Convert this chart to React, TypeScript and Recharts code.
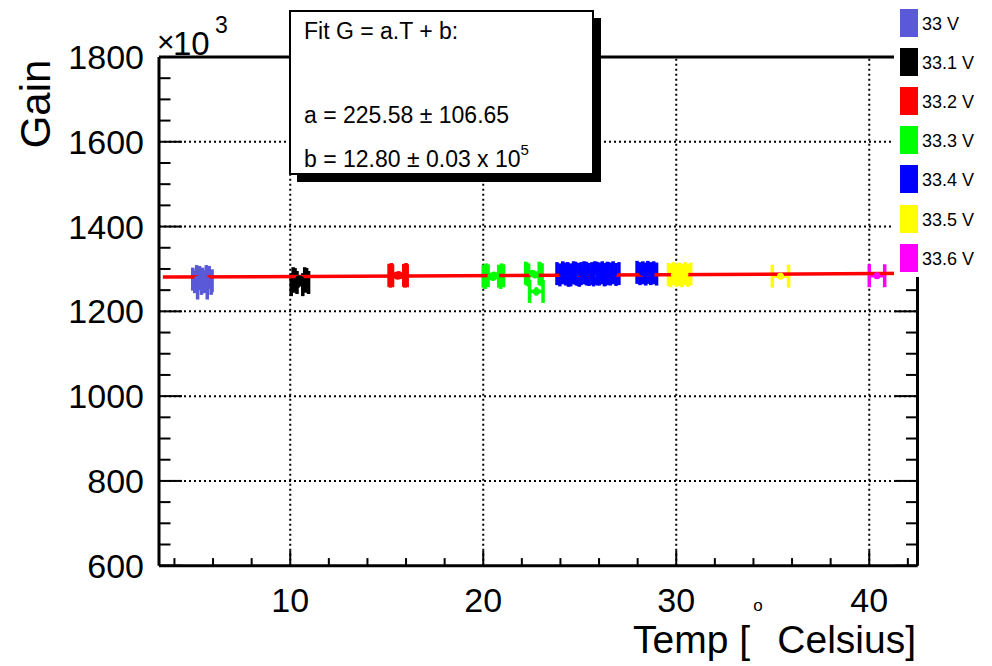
import React from 'react';
import { ComposedChart, Scatter, XAxis, YAxis, ErrorBar, ReferenceLine } from 'recharts';

const FONT = '"Liberation Sans", Arial, Helvetica, sans-serif';

// ---- axis ticks ----
const xTicks = [4, 6, 8, 10, 12, 14, 16, 18, 20, 22, 24, 26, 28, 30, 32, 34, 36, 38, 40, 42];
const xMajor = [10, 20, 30, 40];
const yTicks = [600, 650, 700, 750, 800, 850, 900, 950, 1000, 1050, 1100, 1150, 1200, 1250, 1300, 1350, 1400, 1450, 1500, 1550, 1600, 1650, 1700, 1750, 1800];
const yMajor = [600, 800, 1000, 1200, 1400, 1600, 1800];
const yGrid = [800, 1000, 1200, 1400, 1600];

// ---- series (Temp in °C, Gain in 10^3) ----
const seriesNames = ['33 V', '33.1 V', '33.2 V', '33.3 V', '33.4 V', '33.5 V', '33.6 V'];
const seriesColors = ['#5a5ad8', '#000000', '#ff0000', '#00ff00', '#0000ff', '#ffff00', '#ff00ff'];

const temp330 = [5.2, 5.3, 5.4, 5.45, 5.55, 5.65, 5.7];
const gain330 = [1276, 1270, 1282, 1255, 1280, 1266, 1272];
const terr330 = [0.25, 0.25, 0.25, 0.25, 0.25, 0.25, 0.25];
const gerr330 = [6, 6, 6, 6, 6, 6, 6];

const temp331 = [10.35, 10.45, 10.5, 10.55, 10.65];
const gain331 = [1263, 1277, 1271, 1275, 1268];
const terr331 = [0.3, 0.3, 0.3, 0.3, 0.3];
const gerr331 = [6, 6, 6, 6, 6];

const temp332 = [15.5, 15.56, 15.62, 15.68];
const gain332 = [1285, 1283, 1287, 1284];
const terr332 = [0.38, 0.38, 0.38, 0.38];
const gerr332 = [6, 6, 6, 6];

const temp333 = [20.4, 20.5, 20.55, 20.65, 22.55, 22.6, 22.7, 22.75];
const gain333 = [1283, 1280, 1286, 1284, 1290, 1288, 1286, 1247];
const terr333 = [0.4, 0.4, 0.4, 0.4, 0.35, 0.35, 0.35, 0.35];
const gerr333 = [6, 6, 6, 6, 6, 6, 6, 10];

const temp334 = [24.1, 24.25, 24.4, 24.55, 24.7, 25.05, 25.2, 25.35, 25.5, 25.65, 26.0, 26.15, 26.3, 26.45, 26.6, 26.75, 28.25, 28.4, 28.55, 28.7];
const gain334 = [1289, 1286, 1291, 1288, 1285, 1290, 1287, 1289, 1291, 1288, 1286, 1290, 1288, 1291, 1287, 1289, 1292, 1289, 1291, 1288];
const terr334 = [0.28, 0.28, 0.28, 0.28, 0.28, 0.28, 0.28, 0.28, 0.28, 0.28, 0.28, 0.28, 0.28, 0.28, 0.28, 0.28, 0.28, 0.28, 0.28, 0.28];
const gerr334 = [6, 6, 6, 6, 6, 6, 6, 6, 6, 6, 6, 6, 6, 6, 6, 6, 6, 6, 6, 6];

const temp335 = [29.9, 30.0, 30.15, 30.3, 30.45, 35.4];
const gain335 = [1287, 1284, 1289, 1285, 1288, 1283];
const terr335 = [0.3, 0.3, 0.3, 0.3, 0.3, 0.42];
const gerr335 = [6, 6, 6, 6, 6, 6];

const temp336 = [40.4];
const gain336 = [1284];
const terr336 = [0.4];
const gerr336 = [6];

// fit G = a.T + b, endpoints
const fitT = [3.4, 42.5];
const fitG = [1280.8, 1289.6];

const build = (t: number[], g: number[], te: number[], ge: number[]) =>
  t.map((T, i) => ({ T, G: g[i], xerr: te[i], yerr: ge[i] }));

const seriesData = [
  build(temp330, gain330, terr330, gerr330),
  build(temp331, gain331, terr331, gerr331),
  build(temp332, gain332, terr332, gerr332),
  build(temp333, gain333, terr333, gerr333),
  build(temp334, gain334, terr334, gerr334),
  build(temp335, gain335, terr335, gerr335),
  build(temp336, gain336, terr336, gerr336),
];

const XTickBottom = (p: any) => {
  const { x, y, payload } = p;
  const major = xMajor.includes(payload.value);
  return (
    <g>
      <line x1={x} x2={x} y1={y} y2={y - (major ? 15 : 7.6)} stroke="#000" strokeWidth={2} />
      {major && (
        <text x={x} y={y + 46} textAnchor="middle" fontSize={34} fontFamily={FONT} fill="#000">
          {payload.value}
        </text>
      )}
    </g>
  );
};

const YTickLeft = (p: any) => {
  const { x, y, payload } = p;
  const major = yMajor.includes(payload.value);
  return (
    <g>
      <line x1={x} x2={x + (major ? 23 : 11.5)} y1={y} y2={y} stroke="#000" strokeWidth={2} />
      {major && (
        <text x={x - 15} y={y + 12} textAnchor="end" fontSize={34} fontFamily={FONT} fill="#000">
          {payload.value}
        </text>
      )}
    </g>
  );
};

const YTickRight = (p: any) => {
  const { x, y, payload } = p;
  const major = yMajor.includes(payload.value);
  return <line x1={x} x2={x - (major ? 23 : 11.5)} y1={y} y2={y} stroke="#000" strokeWidth={2} />;
};

const legendY = [23, 62, 101, 140, 179, 219, 258];

export default function App() {
  return (
    <div style={{ position: 'absolute', left: 0, top: 0, width: 992, height: 666, background: '#fff' }}>
      <ComposedChart width={992} height={666} margin={{ top: 56, right: 73.5, bottom: 99.3, left: 158 }}>
        <XAxis
          type="number"
          dataKey="T"
          domain={[3.2, 42.5]}
          ticks={xTicks}
          interval={0}
          height={1}
          tickSize={0}
          tickMargin={0}
          allowDataOverflow
          axisLine={{ stroke: '#000', strokeWidth: 3 }}
          tickLine={false}
          tick={(p: any) => <XTickBottom {...p} />}
        />
        <XAxis
          xAxisId="top"
          orientation="top"
          type="number"
          domain={[3.2, 42.5]}
          ticks={xTicks}
          height={1}
          tickSize={0}
          allowDataOverflow
          axisLine={{ stroke: '#000', strokeWidth: 3 }}
          tickLine={false}
          tick={false}
        />
        <YAxis
          type="number"
          dataKey="G"
          domain={[600, 1800]}
          ticks={yTicks}
          interval={0}
          width={1}
          tickSize={0}
          tickMargin={0}
          allowDataOverflow
          axisLine={{ stroke: '#000', strokeWidth: 3 }}
          tickLine={false}
          tick={(p: any) => <YTickLeft {...p} />}
        />
        <YAxis
          yAxisId="right"
          orientation="right"
          type="number"
          domain={[600, 1800]}
          ticks={yTicks}
          interval={0}
          width={1}
          tickSize={0}
          tickMargin={0}
          allowDataOverflow
          axisLine={{ stroke: '#000', strokeWidth: 3 }}
          tickLine={false}
          tick={(p: any) => <YTickRight {...p} />}
        />
        {xMajor.map((v) => (
          <ReferenceLine key={'gx' + v} x={v} stroke="#000" strokeWidth={2} strokeDasharray="2 3" />
        ))}
        {yGrid.map((v) => (
          <ReferenceLine key={'gy' + v} y={v} stroke="#000" strokeWidth={2} strokeDasharray="2 3" />
        ))}
        {seriesData.map((d, i) => (
          <Scatter
            key={seriesNames[i]}
            name={seriesNames[i]}
            data={d}
            fill={seriesColors[i]}
            isAnimationActive={false}
            shape={(p: any) => <circle cx={p.cx} cy={p.cy} r={3.5} fill={seriesColors[i]} />}
          >
            <ErrorBar dataKey="xerr" direction="x" width={11.5} stroke={seriesColors[i]} strokeWidth={3.5} />
            <ErrorBar dataKey="yerr" direction="y" width={0} stroke={seriesColors[i]} strokeWidth={3} />
          </Scatter>
        ))}
        <ReferenceLine
          segment={[
            { x: fitT[0], y: fitG[0] },
            { x: fitT[1], y: fitG[1] },
          ]}
          stroke="#ff0000"
          strokeWidth={3.5}
        />
      </ComposedChart>
      <svg
        width={992}
        height={666}
        style={{ position: 'absolute', left: 0, top: 0, pointerEvents: 'none' }}
        fontFamily={FONT}
      >
        <text transform="translate(50,104) rotate(-90)" textAnchor="middle" fontSize={42} fill="#000">
          Gain
        </text>
        <text x={157} y={52} fontSize={30} fill="#000">×</text>
        <text x={173} y={55} fontSize={33} fill="#000">10</text>
        <text x={215} y={33} fontSize={23} fill="#000">3</text>
        <text x={750} y={653} textAnchor="end" fontSize={39} fill="#000">Temp [</text>
        <text x={758} y={611} textAnchor="middle" fontSize={17} fill="#000">o</text>
        <text x={916} y={653} textAnchor="end" fontSize={39} fill="#000">Celsius]</text>

        <rect x={297} y={18} width={304} height={164} fill="#000" />
        <rect x={290} y={11} width={303} height={163} fill="#fff" stroke="#000" strokeWidth={2} />
        <text x={304} y={39} fontSize={23} fill="#000">Fit G = a.T + b:</text>
        <text x={304} y={123} fontSize={23} fill="#000">a = 225.58 ± 106.65</text>
        <text x={304} y={167} fontSize={23} fill="#000">
          b = 12.80 ± 0.03 x 10<tspan dy={-12} fontSize={15}>5</tspan>
        </text>

        <rect x={894} y={0} width={98} height={277} fill="#fff" />
        {seriesNames.map((n, i) => (
          <g key={n}>
            <rect x={900} y={legendY[i] - 14} width={18} height={28} fill={seriesColors[i]} />
            <text x={922} y={legendY[i] + 6.5} fontSize={18} fill="#000">
              {n}
            </text>
          </g>
        ))}
      </svg>
    </div>
  );
}
